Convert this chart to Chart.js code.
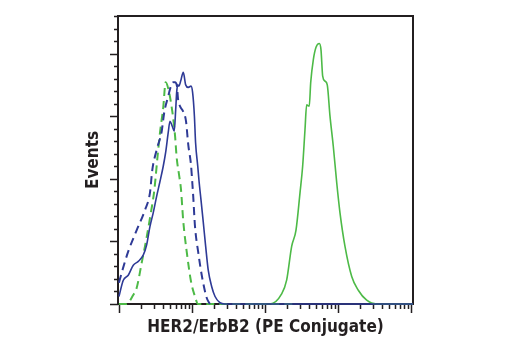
<!DOCTYPE html>
<html>
<head>
<meta charset="utf-8">
<script src="https://cdn.jsdelivr.net/npm/chart.js@4"></script>
<style>
  body { margin: 0; background: #fff; }
  canvas { display: block; }
</style>
</head>
<body>
<canvas id="chart-hist" width="520" height="350"></canvas>
<script>
// 축 범위
const xMin = 0.97;
const xMax = 10650;
const yMax = 230;

// 양성 (초록 실선)
const posX = [60, 117, 169, 198, 232, 266, 302, 328, 353, 372, 404, 423, 459, 500, 555, 585, 617, 664, 713, 777, 862, 960, 1064, 1247, 1541, 1897, 2472, 3388, 10650];
const posY = [0, 0, 8, 19, 46, 59, 89, 110, 139, 159, 158, 177, 195, 205, 208, 203, 182, 178, 175, 150, 126, 97, 73, 46, 22, 11, 3, 0, 0];

// 파란 실선
const blueX = [1, 1.146, 1.34, 1.57, 1.84, 2.15, 2.39, 2.66, 2.95, 3.28, 3.65, 4.04, 4.36, 4.73, 5.0, 5.37, 5.72, 5.98, 6.17, 6.37, 6.63, 7.0, 7.6, 8.2, 8.9, 9.7, 10.2, 10.8, 11.2, 12.0, 12.5, 13.3, 14.3, 15.4, 16.7, 18.6, 20.7, 24.2, 28.3, 10650];
const blueY = [6, 19, 23, 31, 34, 39, 47, 62, 73, 86, 98, 110, 121, 137, 146, 142, 138, 155, 169, 175, 174, 178, 185, 175, 173, 174, 169, 150, 129, 110, 98, 83, 65, 46, 27, 14, 6, 1, 0, 0];

// 파란 점선
const blueDashX = [1, 1.09, 1.34, 1.75, 2.27, 2.66, 2.86, 3.28, 3.85, 4.17, 4.73, 5.15, 5.54, 5.85, 6.23, 6.43, 6.85, 7.53, 8.28, 8.9, 9.7, 10.1, 10.4, 11.0, 12.2, 13.8, 15.9, 17.6];
const blueDashY = [17, 25, 42, 59, 75, 89, 107, 123, 138, 153, 166, 174, 177, 177, 174, 164, 158, 154, 146, 127, 111, 97, 86, 62, 41, 21, 5, 0];

// 초록 점선
const greenDashX = [1, 1.27, 1.56, 1.75, 2.05, 2.39, 2.70, 3.05, 3.39, 3.65, 4.04, 4.36, 4.73, 5.37, 5.85, 6.17, 6.70, 7.06, 7.60, 8.46, 9.7, 11.0, 12.1, 250];
const greenDashY = [0, 0, 7, 13, 33, 53, 71, 91, 119, 137, 157, 177, 172, 154, 135, 117, 102, 92, 66, 42, 18, 6, 0, 0];

const blue = '#2e3a96';
const green = '#4dba47';

function toPoints(xs, ys) {
    return xs.map((x, i) => ({ x: x, y: ys[i] }));
}

// 축 틱 + 테두리
const framePlugin = {
    id: 'frame',
    beforeDatasetsDraw(chart) {
        const ctx = chart.ctx;
        const area = chart.chartArea;
        const xs = chart.scales.x;
        const ys = chart.scales.y;
        ctx.save();
        ctx.strokeStyle = '#231f20';
        ctx.lineWidth = 2;
        ctx.strokeRect(area.left, area.top, area.right - area.left, area.bottom - area.top);

        ctx.lineWidth = 1.5;
        ctx.beginPath();
        for (let k = 0; k <= 4; k++) {
            for (let m = 1; m <= 9; m++) {
                const v = m * Math.pow(10, k);
                if (v > xMax) continue;
                const px = Math.round(xs.getPixelForValue(v)) + 0.5;
                ctx.moveTo(px, area.bottom);
                ctx.lineTo(px, area.bottom + (m === 1 ? 9 : 5));
            }
        }
        for (let v = 0; v <= yMax; v += 10) {
            const py = Math.round(ys.getPixelForValue(v)) + 0.5;
            ctx.moveTo(area.left, py);
            ctx.lineTo(area.left - (v % 50 === 0 ? 8 : 4), py);
        }
        ctx.stroke();
        ctx.restore();
    }
};

const lineStyle = {
    pointRadius: 0,
    fill: false,
    tension: 0.3,
    cubicInterpolationMode: 'monotone',
    clip: 4
};

const config_hist = {
    type: 'line',
    data: {
        datasets: [
            Object.assign({ data: toPoints(blueX, blueY), borderColor: blue, borderWidth: 1.6 }, lineStyle),
            Object.assign({ data: toPoints(blueDashX, blueDashY), borderColor: blue, borderWidth: 2, borderDash: [8, 5] }, lineStyle),
            Object.assign({ data: toPoints(greenDashX, greenDashY), borderColor: green, borderWidth: 2, borderDash: [8, 5] }, lineStyle),
            Object.assign({ data: toPoints(posX, posY), borderColor: green, borderWidth: 1.6 }, lineStyle)
        ]
    },
    plugins: [framePlugin],
    options: {
        responsive: false,
        animation: false,
        devicePixelRatio: 1,
        layout: {
            padding: { top: 16, right: 107, left: 0, bottom: 0 }
        },
        scales: {
            x: {
                type: 'logarithmic',
                min: xMin,
                max: xMax,
                grid: { display: false },
                border: { display: false },
                ticks: { display: false },
                afterFit: s => { s.height = 46; },
                title: {
                    display: true,
                    text: 'HER2/ErbB2 (PE Conjugate)',
                    color: '#231f20',
                    padding: { top: 0, bottom: 12 },
                    font: { family: '"Liberation Sans Narrow", "DejaVu Sans Condensed", Arial', size: 17, weight: 'bold' }
                }
            },
            y: {
                min: 0,
                max: yMax,
                grid: { display: false },
                border: { display: false },
                ticks: { display: false },
                afterFit: s => { s.width = 118; },
                title: {
                    display: true,
                    text: 'Events',
                    color: '#231f20',
                    padding: { top: 83, bottom: 0 },
                    font: { family: '"Liberation Sans Narrow", "DejaVu Sans Condensed", Arial', size: 17, weight: 'bold' }
                }
            }
        },
        plugins: {
            legend: { display: false },
            tooltip: { enabled: false }
        }
    }
};

const histChart = new Chart(document.getElementById('chart-hist'), config_hist);
</script>
</body>
</html>
